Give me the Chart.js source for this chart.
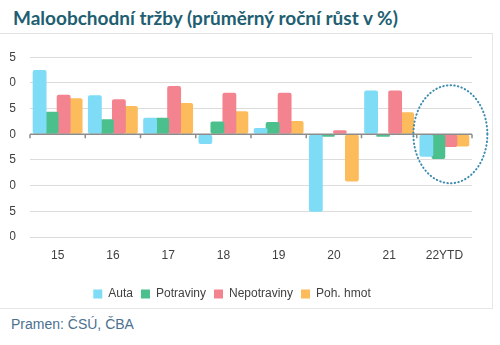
<!DOCTYPE html>
<html>
<head>
<meta charset="utf-8">
<script src="https://cdn.jsdelivr.net/npm/chart.js@4"></script>
<style>
  html, body { margin: 0; padding: 0; background: #fff; }
  body { width: 500px; height: 345px; position: relative; overflow: hidden; }
  #title { position: absolute; left: 13px; top: 6px; font: bold 19px Lato, sans-serif; color: #215e71; white-space: nowrap; }
  #panel { position: absolute; left: -2px; top: 33px; width: 494px; height: 274px; border-top: 1px solid #e2e2e2; border-right: 1px solid #e6e6e6; border-bottom: 1px solid #e6e6e6; }
  #wrap { position: absolute; left: -8px; top: 36px; width: 500px; height: 274px; clip-path: inset(0 0 0 18px); }
  #source { position: absolute; left: 11px; top: 316px; font: 14px "Liberation Sans", Arial, sans-serif; color: #4a7190; }
</style>
</head>
<body>
<div id="title">Maloobchodní tržby (průměrný roční růst v %)</div>
<div id="panel"></div>
<div id="wrap"><canvas id="chart"></canvas></div>
<div id="source">Pramen: ČSÚ, ČBA</div>
<script>
const years = ['15', '16', '17', '18', '19', '20', '21', '22YTD'];
const auta = [12.5, 7.6, 3.2, -1.9, 1.2, -15.1, 8.5, -4.4];
const potraviny = [4.4, 2.9, 3.2, 2.5, 2.4, -0.5, -0.5, -4.8];
const nepotraviny = [7.7, 6.8, 9.4, 8.1, 8.1, 0.8, 8.5, -2.5];
const pohHmot = [7.0, 5.5, 6.1, 4.5, 2.6, -9.2, 4.3, -2.4];
const yTicks = [15, 10, 5, 0, -5, -10, -15, -20];

const font = { family: '"Liberation Sans", Arial, sans-serif', size: 12 };

function bar(label, values, color) {
  return {
    label: label,
    data: values,
    backgroundColor: color,
    borderRadius: 2,
    borderSkipped: false,
    categoryPercentage: 0.87,
    barPercentage: 1.15
  };
}

// zero axis line with small tick marks, plus the dotted ellipse around the last group
const extras = {
  id: 'extras',
  afterDatasetsDraw(chart) {
    const { ctx, chartArea, scales: { x, y } } = chart;
    const y0 = y.getPixelForValue(0);
    ctx.save();
    ctx.strokeStyle = '#8c8c8c';
    ctx.lineWidth = 1.5;
    ctx.beginPath();
    ctx.moveTo(chartArea.left, y0);
    ctx.lineTo(chartArea.right, y0);
    const step = (chartArea.right - chartArea.left) / years.length;
    for (let i = 0; i <= years.length; i++) {
      const px = chartArea.left + i * step;
      ctx.moveTo(px, y0);
      ctx.lineTo(px, y0 + 4);
    }
    ctx.stroke();

    const cx = x.getPixelForValue(years.length - 1) + 6;
    ctx.strokeStyle = '#3e8cb0';
    ctx.lineWidth = 2;
    ctx.lineCap = 'round';
    ctx.setLineDash([0.5, 3.2]);
    ctx.beginPath();
    ctx.ellipse(cx, y0, 37, 49, 0, 0, Math.PI * 2);
    ctx.stroke();
    ctx.restore();
  }
};

new Chart(document.getElementById('chart'), {
  type: 'bar',
  data: {
    labels: years,
    datasets: [
      bar('Auta', auta, '#7fdcf6'),
      bar('Potraviny', potraviny, '#4cc08c'),
      bar('Nepotraviny', nepotraviny, '#f2838f'),
      bar('Poh. hmot', pohHmot, '#fdbc5c')
    ]
  },
  options: {
    responsive: true,
    maintainAspectRatio: false,
    animation: false,
    layout: { padding: { top: 4, right: 20, bottom: 0, left: 0 } },
    plugins: {
      tooltip: { enabled: false },
      legend: {
        position: 'bottom',
        // empty title only adds some room above the legend items
        title: { display: true, text: '', font: { size: 1 }, padding: { top: 13.4, bottom: 0 } },
        labels: {
          font: font,
          color: '#404040',
          boxWidth: 9,
          boxHeight: 9,
          padding: 8
        }
      }
    },
    scales: {
      x: {
        grid: { display: false },
        border: { display: false },
        ticks: { font: font, color: '#404040', padding: 3, maxRotation: 0 }
      },
      y: {
        min: -20,
        max: 15,
        afterBuildTicks: s => { s.ticks = yTicks.map(v => ({ value: v })); },
        afterFit: s => { s.width = 38; },
        grid: { color: '#dcdcdc', drawTicks: false },
        border: { display: false },
        ticks: { font: font, color: '#404040', padding: 14 }
      }
    }
  },
  plugins: [extras]
});
</script>
</body>
</html>
